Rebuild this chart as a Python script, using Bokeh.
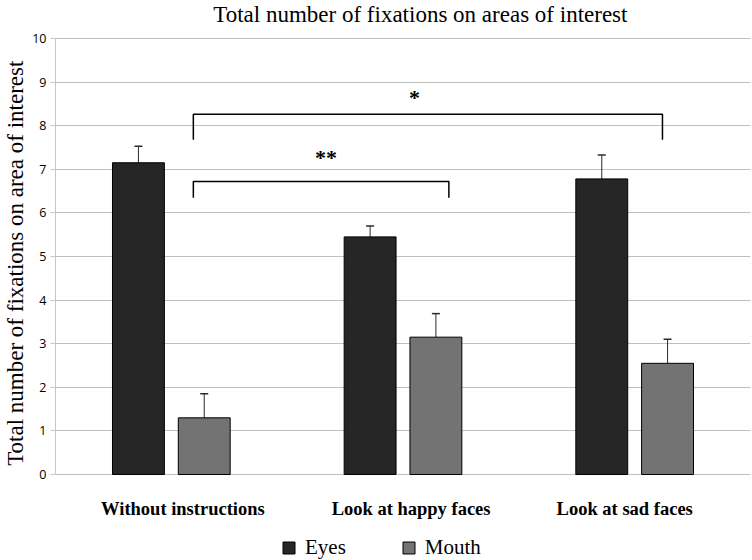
from bokeh.plotting import figure
from bokeh.models import Range1d, FixedTicker, Whisker, ColumnDataSource, Legend, LegendItem, TeeHead
from bokeh.embed import file_html
from bokeh.resources import INLINE
from bokeh.core.properties import value

# ---- data ----
title_text = "Total number of fixations on areas of interest"
y_label = "Total number of fixations on area of interest"
categories = ["Without instructions", "Look at happy faces", "Look at sad faces"]
eyes = [7.15, 5.45, 6.78]
eyes_err = [0.38, 0.25, 0.55]
mouth = [1.30, 3.15, 2.55]
mouth_err = [0.55, 0.54, 0.55]
y_ticks = [0, 1, 2, 3, 4, 5, 6, 7, 8, 9, 10]

# significance brackets: x start, x end, top, leg bottom, label, label x, label y
bracket_x0 = [0.595, 0.595]
bracket_x1 = [2.62, 1.698]
bracket_top = [8.26, 6.72]
bracket_leg = [7.68, 6.35]
bracket_label = ["*", "**"]
bracket_label_x = [1.55, 1.168]
bracket_label_y = [8.65, 7.27]

SERIF = "Liberation Serif"
EYES_C = "#262626"
MOUTH_C = "#737373"

centers = [i + 0.5 for i in range(len(categories))]
label_dx = [0.05, 0.035, -0.043]   # small horizontal nudges of category labels
off = 0.142
bw = 0.224

p = figure(width=752, height=560, output_backend="svg", toolbar_location=None,
           x_range=Range1d(0, 3), y_range=Range1d(-1.9725, 10.8716),
           min_border_left=55, min_border_right=2, min_border_top=0, min_border_bottom=0)
p.outline_line_color = None
p.background_fill_color = "white"

src_e = ColumnDataSource(dict(x=[c - off for c in centers], top=eyes,
                              up=[v + e for v, e in zip(eyes, eyes_err)],
                              lo=[v - e for v, e in zip(eyes, eyes_err)]))
src_m = ColumnDataSource(dict(x=[c + off for c in centers], top=mouth,
                              up=[v + e for v, e in zip(mouth, mouth_err)],
                              lo=[v - e for v, e in zip(mouth, mouth_err)]))

r_e = p.vbar(x="x", top="top", bottom=0, width=bw, source=src_e, fill_color=EYES_C, line_color="#000000", line_width=1)
r_m = p.vbar(x="x", top="top", bottom=0, width=bw, source=src_m, fill_color=MOUTH_C, line_color="#000000", line_width=1)

for src in (src_e, src_m):
    w = Whisker(base="x", upper="up", lower="lo", source=src, line_color="#2a2a2a", line_width=1,
                upper_head=TeeHead(size=8, line_color="#2a2a2a", line_width=1.5),
                lower_head=TeeHead(size=8, line_color="#2a2a2a", line_width=1.5))
    p.add_layout(w)

for x0, x1, t, l in zip(bracket_x0, bracket_x1, bracket_top, bracket_leg):
    p.line([x0, x0, x1, x1], [l, t, t, l], line_color="#000000", line_width=1.5)

p.text(x=bracket_label_x, y=bracket_label_y, text=bracket_label, text_font=value(SERIF),
       text_font_size="22px", text_font_style="bold", text_align="center", text_baseline="middle",
       text_color="#000000")

# title (drawn in the top band of the plot)
p.text(x=[0.681], y=[10.55], text=[title_text], text_font=value(SERIF),
       text_font_size="23px", text_align="left", text_baseline="alphabetic", text_color="#000000")

# category labels (drawn under the bars)
p.text(x=[c + d for c, d in zip(centers, label_dx)], y=[-0.78] * len(centers), text=categories,
       text_font=value(SERIF), text_font_size="18.5px", text_font_style="bold",
       text_align="center", text_baseline="middle", text_color="#000000")

# axes
p.xaxis.visible = False
p.yaxis.ticker = FixedTicker(ticks=y_ticks)
p.yaxis.bounds = (0, 10)
p.yaxis.axis_label = "\u00a0" * 6 + y_label
p.yaxis.axis_label_text_font = SERIF
p.yaxis.axis_label_text_font_size = "23px"
p.yaxis.axis_label_text_font_style = "normal"
p.yaxis.axis_label_text_color = "#000000"
p.yaxis.axis_label_standoff = 1
p.yaxis.major_label_standoff = 4
p.yaxis.major_label_text_font = "Open Sans"
p.yaxis.major_label_text_font_size = "12.5px"
p.yaxis.major_label_text_color = "#000000"
p.yaxis.axis_line_color = "#c8c8c8"
p.yaxis.major_tick_line_color = "#c8c8c8"
p.yaxis.major_tick_out = 5
p.yaxis.major_tick_in = 0
p.yaxis.minor_tick_line_color = None

p.xgrid.grid_line_color = None
p.ygrid.grid_line_color = "#c0c0c0"
p.ygrid.grid_line_width = 1

legend = Legend(items=[LegendItem(label="Eyes", renderers=[r_e]), LegendItem(label="Mouth", renderers=[r_m])],
                orientation="horizontal", location=(226, 0),
                label_text_font=SERIF, label_text_font_size="21px", label_text_color="#000000",
                glyph_width=15, glyph_height=15, label_standoff=9, spacing=55, padding=2, margin=0,
                border_line_color=None, background_fill_alpha=0)
p.add_layout(legend, "center")

open("out.html", "w").write(file_html(p, INLINE))
